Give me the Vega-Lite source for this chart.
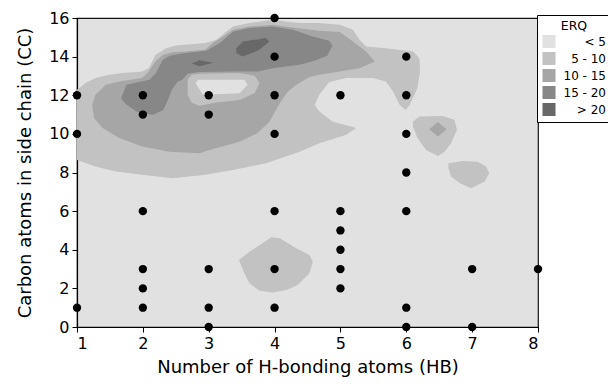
{
"$schema": "https://vega.github.io/schema/vega-lite/v6.json",
"width": 461, "height": 309,
"autosize": {"type": "none"},
"padding": {"left": 77, "top": 18, "right": 70, "bottom": 59},
"config": {
  "font": "DejaVu Sans",
  "view": {"fill": "#e1e1e1", "stroke": "#111111", "strokeWidth": 1.2},
  "axis": {"grid": false, "domainColor": "black", "tickColor": "black", "tickSize": 5, "labelColor": "black", "titleColor": "black", "labelFontSize": 16, "titleFontSize": 18, "titleFontWeight": "normal", "domainWidth": 1.2},
  "legend": {"titleFontWeight": "normal", "titleColor": "black", "labelColor": "black"}
},
"datasets": {
"contours": [
{"poly":"c0main","level":"5 - 10","i":1,"hb":1.00,"cc":12.28},
{"poly":"c0main","level":"5 - 10","i":2,"hb":1.13,"cc":12.63},
{"poly":"c0main","level":"5 - 10","i":3,"hb":1.28,"cc":12.89},
{"poly":"c0main","level":"5 - 10","i":4,"hb":1.49,"cc":13.06},
{"poly":"c0main","level":"5 - 10","i":5,"hb":1.69,"cc":13.15},
{"poly":"c0main","level":"5 - 10","i":6,"hb":1.99,"cc":13.23},
{"poly":"c0main","level":"5 - 10","i":7,"hb":2.09,"cc":13.40},
{"poly":"c0main","level":"5 - 10","i":8,"hb":2.19,"cc":14.09},
{"poly":"c0main","level":"5 - 10","i":9,"hb":2.35,"cc":14.44},
{"poly":"c0main","level":"5 - 10","i":10,"hb":2.50,"cc":14.58},
{"poly":"c0main","level":"5 - 10","i":11,"hb":2.95,"cc":14.70},
{"poly":"c0main","level":"5 - 10","i":12,"hb":3.12,"cc":14.87},
{"poly":"c0main","level":"5 - 10","i":13,"hb":3.27,"cc":15.30},
{"poly":"c0main","level":"5 - 10","i":14,"hb":3.37,"cc":15.56},
{"poly":"c0main","level":"5 - 10","i":15,"hb":3.62,"cc":15.74},
{"poly":"c0main","level":"5 - 10","i":16,"hb":3.97,"cc":15.91},
{"poly":"c0main","level":"5 - 10","i":17,"hb":4.18,"cc":15.82},
{"poly":"c0main","level":"5 - 10","i":18,"hb":4.38,"cc":15.74},
{"poly":"c0main","level":"5 - 10","i":19,"hb":4.68,"cc":15.74},
{"poly":"c0main","level":"5 - 10","i":20,"hb":4.99,"cc":15.65},
{"poly":"c0main","level":"5 - 10","i":21,"hb":5.19,"cc":15.39},
{"poly":"c0main","level":"5 - 10","i":22,"hb":5.29,"cc":14.87},
{"poly":"c0main","level":"5 - 10","i":23,"hb":5.39,"cc":14.52},
{"poly":"c0main","level":"5 - 10","i":24,"hb":5.69,"cc":14.44},
{"poly":"c0main","level":"5 - 10","i":25,"hb":6.10,"cc":14.26},
{"poly":"c0main","level":"5 - 10","i":26,"hb":6.20,"cc":13.92},
{"poly":"c0main","level":"5 - 10","i":27,"hb":6.21,"cc":13.23},
{"poly":"c0main","level":"5 - 10","i":28,"hb":6.17,"cc":12.37},
{"poly":"c0main","level":"5 - 10","i":29,"hb":6.05,"cc":11.50},
{"poly":"c0main","level":"5 - 10","i":30,"hb":5.99,"cc":11.24},
{"poly":"c0main","level":"5 - 10","i":31,"hb":5.90,"cc":11.50},
{"poly":"c0main","level":"5 - 10","i":32,"hb":5.80,"cc":12.19},
{"poly":"c0main","level":"5 - 10","i":33,"hb":5.69,"cc":12.71},
{"poly":"c0main","level":"5 - 10","i":34,"hb":5.49,"cc":12.89},
{"poly":"c0main","level":"5 - 10","i":35,"hb":5.09,"cc":12.89},
{"poly":"c0main","level":"5 - 10","i":36,"hb":4.83,"cc":12.69},
{"poly":"c0main","level":"5 - 10","i":37,"hb":4.68,"cc":12.02},
{"poly":"c0main","level":"5 - 10","i":38,"hb":4.61,"cc":11.50},
{"poly":"c0main","level":"5 - 10","i":39,"hb":4.68,"cc":11.16},
{"poly":"c0main","level":"5 - 10","i":40,"hb":4.88,"cc":10.64},
{"poly":"c0main","level":"5 - 10","i":41,"hb":5.24,"cc":10.30},
{"poly":"c0main","level":"5 - 10","i":42,"hb":5.09,"cc":9.95},
{"poly":"c0main","level":"5 - 10","i":43,"hb":4.68,"cc":9.52},
{"poly":"c0main","level":"5 - 10","i":44,"hb":4.38,"cc":9.08},
{"poly":"c0main","level":"5 - 10","i":45,"hb":3.87,"cc":8.48},
{"poly":"c0main","level":"5 - 10","i":46,"hb":3.37,"cc":8.13},
{"poly":"c0main","level":"5 - 10","i":47,"hb":2.95,"cc":7.88},
{"poly":"c0main","level":"5 - 10","i":48,"hb":2.45,"cc":7.70},
{"poly":"c0main","level":"5 - 10","i":49,"hb":1.99,"cc":7.88},
{"poly":"c0main","level":"5 - 10","i":50,"hb":1.59,"cc":8.05},
{"poly":"c0main","level":"5 - 10","i":51,"hb":1.28,"cc":8.31},
{"poly":"c0main","level":"5 - 10","i":52,"hb":1.00,"cc":8.65},
{"poly":"blobA","level":"5 - 10","i":1,"hb":6.10,"cc":10.64},
{"poly":"blobA","level":"5 - 10","i":2,"hb":6.20,"cc":10.90},
{"poly":"blobA","level":"5 - 10","i":3,"hb":6.55,"cc":10.93},
{"poly":"blobA","level":"5 - 10","i":4,"hb":6.73,"cc":10.73},
{"poly":"blobA","level":"5 - 10","i":5,"hb":6.77,"cc":10.21},
{"poly":"blobA","level":"5 - 10","i":6,"hb":6.68,"cc":9.52},
{"poly":"blobA","level":"5 - 10","i":7,"hb":6.58,"cc":9.08},
{"poly":"blobA","level":"5 - 10","i":8,"hb":6.48,"cc":8.86},
{"poly":"blobA","level":"5 - 10","i":9,"hb":6.30,"cc":9.17},
{"poly":"blobA","level":"5 - 10","i":10,"hb":6.17,"cc":9.78},
{"poly":"blobA","level":"5 - 10","i":11,"hb":6.10,"cc":10.38},
{"poly":"blobB","level":"5 - 10","i":1,"hb":6.64,"cc":8.48},
{"poly":"blobB","level":"5 - 10","i":2,"hb":6.86,"cc":8.60},
{"poly":"blobB","level":"5 - 10","i":3,"hb":7.08,"cc":8.56},
{"poly":"blobB","level":"5 - 10","i":4,"hb":7.21,"cc":8.31},
{"poly":"blobB","level":"5 - 10","i":5,"hb":7.26,"cc":7.96},
{"poly":"blobB","level":"5 - 10","i":6,"hb":7.19,"cc":7.53},
{"poly":"blobB","level":"5 - 10","i":7,"hb":6.98,"cc":7.19},
{"poly":"blobB","level":"5 - 10","i":8,"hb":6.81,"cc":7.45},
{"poly":"blobB","level":"5 - 10","i":9,"hb":6.68,"cc":7.79},
{"poly":"blobB","level":"5 - 10","i":10,"hb":6.64,"cc":8.22},
{"poly":"blobC","level":"5 - 10","i":1,"hb":3.46,"cc":3.47},
{"poly":"blobC","level":"5 - 10","i":2,"hb":3.62,"cc":3.90},
{"poly":"blobC","level":"5 - 10","i":3,"hb":3.95,"cc":4.65},
{"poly":"blobC","level":"5 - 10","i":4,"hb":4.08,"cc":4.60},
{"poly":"blobC","level":"5 - 10","i":5,"hb":4.33,"cc":4.08},
{"poly":"blobC","level":"5 - 10","i":6,"hb":4.53,"cc":3.73},
{"poly":"blobC","level":"5 - 10","i":7,"hb":4.58,"cc":3.38},
{"poly":"blobC","level":"5 - 10","i":8,"hb":4.53,"cc":2.78},
{"poly":"blobC","level":"5 - 10","i":9,"hb":4.35,"cc":2.18},
{"poly":"blobC","level":"5 - 10","i":10,"hb":4.18,"cc":1.92},
{"poly":"blobC","level":"5 - 10","i":11,"hb":3.97,"cc":1.78},
{"poly":"blobC","level":"5 - 10","i":12,"hb":3.77,"cc":1.88},
{"poly":"blobC","level":"5 - 10","i":13,"hb":3.62,"cc":2.26},
{"poly":"blobC","level":"5 - 10","i":14,"hb":3.54,"cc":2.78},
{"poly":"a6main","level":"10 - 15","i":1,"hb":1.23,"cc":11.50},
{"poly":"a6main","level":"10 - 15","i":2,"hb":1.28,"cc":12.02},
{"poly":"a6main","level":"10 - 15","i":3,"hb":1.44,"cc":12.54},
{"poly":"a6main","level":"10 - 15","i":4,"hb":1.64,"cc":12.71},
{"poly":"a6main","level":"10 - 15","i":5,"hb":1.99,"cc":12.89},
{"poly":"a6main","level":"10 - 15","i":6,"hb":2.07,"cc":13.15},
{"poly":"a6main","level":"10 - 15","i":7,"hb":2.19,"cc":13.75},
{"poly":"a6main","level":"10 - 15","i":8,"hb":2.30,"cc":14.09},
{"poly":"a6main","level":"10 - 15","i":9,"hb":2.45,"cc":14.23},
{"poly":"a6main","level":"10 - 15","i":10,"hb":2.65,"cc":14.26},
{"poly":"a6main","level":"10 - 15","i":11,"hb":2.95,"cc":14.35},
{"poly":"a6main","level":"10 - 15","i":12,"hb":3.06,"cc":14.70},
{"poly":"a6main","level":"10 - 15","i":13,"hb":3.22,"cc":15.04},
{"poly":"a6main","level":"10 - 15","i":14,"hb":3.37,"cc":15.39},
{"poly":"a6main","level":"10 - 15","i":15,"hb":3.62,"cc":15.56},
{"poly":"a6main","level":"10 - 15","i":16,"hb":3.97,"cc":15.65},
{"poly":"a6main","level":"10 - 15","i":17,"hb":4.33,"cc":15.48},
{"poly":"a6main","level":"10 - 15","i":18,"hb":4.68,"cc":15.34},
{"poly":"a6main","level":"10 - 15","i":19,"hb":4.99,"cc":15.28},
{"poly":"a6main","level":"10 - 15","i":20,"hb":5.19,"cc":14.78},
{"poly":"a6main","level":"10 - 15","i":21,"hb":5.39,"cc":14.26},
{"poly":"a6main","level":"10 - 15","i":22,"hb":5.52,"cc":13.75},
{"poly":"a6main","level":"10 - 15","i":23,"hb":5.29,"cc":13.40},
{"poly":"a6main","level":"10 - 15","i":24,"hb":4.99,"cc":13.23},
{"poly":"a6main","level":"10 - 15","i":25,"hb":4.68,"cc":13.06},
{"poly":"a6main","level":"10 - 15","i":26,"hb":4.53,"cc":12.95},
{"poly":"a6main","level":"10 - 15","i":27,"hb":4.33,"cc":12.54},
{"poly":"a6main","level":"10 - 15","i":28,"hb":4.20,"cc":12.18},
{"poly":"a6main","level":"10 - 15","i":29,"hb":4.11,"cc":11.76},
{"poly":"a6main","level":"10 - 15","i":30,"hb":4.02,"cc":11.24},
{"poly":"a6main","level":"10 - 15","i":31,"hb":3.92,"cc":10.62},
{"poly":"a6main","level":"10 - 15","i":32,"hb":3.74,"cc":10.05},
{"poly":"a6main","level":"10 - 15","i":33,"hb":3.47,"cc":9.59},
{"poly":"a6main","level":"10 - 15","i":34,"hb":3.01,"cc":9.17},
{"poly":"a6main","level":"10 - 15","i":35,"hb":2.86,"cc":9.00},
{"poly":"a6main","level":"10 - 15","i":36,"hb":2.40,"cc":9.08},
{"poly":"a6main","level":"10 - 15","i":37,"hb":1.99,"cc":9.34},
{"poly":"a6main","level":"10 - 15","i":38,"hb":1.64,"cc":9.78},
{"poly":"a6main","level":"10 - 15","i":39,"hb":1.39,"cc":10.30},
{"poly":"a6main","level":"10 - 15","i":40,"hb":1.26,"cc":10.81},
{"poly":"blobAin","level":"10 - 15","i":1,"hb":6.35,"cc":10.24},
{"poly":"blobAin","level":"10 - 15","i":2,"hb":6.48,"cc":10.61},
{"poly":"blobAin","level":"10 - 15","i":3,"hb":6.61,"cc":10.24},
{"poly":"blobAin","level":"10 - 15","i":4,"hb":6.48,"cc":9.86},
{"poly":"d80main","level":"15 - 20","i":1,"hb":1.67,"cc":11.85},
{"poly":"d80main","level":"15 - 20","i":2,"hb":1.75,"cc":12.54},
{"poly":"d80main","level":"15 - 20","i":3,"hb":2.10,"cc":12.80},
{"poly":"d80main","level":"15 - 20","i":4,"hb":2.20,"cc":13.15},
{"poly":"d80main","level":"15 - 20","i":5,"hb":2.30,"cc":13.83},
{"poly":"d80main","level":"15 - 20","i":6,"hb":2.41,"cc":14.04},
{"poly":"d80main","level":"15 - 20","i":7,"hb":2.61,"cc":14.18},
{"poly":"d80main","level":"15 - 20","i":8,"hb":2.96,"cc":14.30},
{"poly":"d80main","level":"15 - 20","i":9,"hb":3.17,"cc":14.70},
{"poly":"d80main","level":"15 - 20","i":10,"hb":3.37,"cc":15.30},
{"poly":"d80main","level":"15 - 20","i":11,"hb":3.62,"cc":15.48},
{"poly":"d80main","level":"15 - 20","i":12,"hb":3.97,"cc":15.56},
{"poly":"d80main","level":"15 - 20","i":13,"hb":4.28,"cc":15.39},
{"poly":"d80main","level":"15 - 20","i":14,"hb":4.58,"cc":15.04},
{"poly":"d80main","level":"15 - 20","i":15,"hb":4.83,"cc":14.82},
{"poly":"d80main","level":"15 - 20","i":16,"hb":4.88,"cc":14.56},
{"poly":"d80main","level":"15 - 20","i":17,"hb":4.80,"cc":14.04},
{"poly":"d80main","level":"15 - 20","i":18,"hb":4.61,"cc":13.78},
{"poly":"d80main","level":"15 - 20","i":19,"hb":4.38,"cc":13.58},
{"poly":"d80main","level":"15 - 20","i":20,"hb":3.97,"cc":13.40},
{"poly":"d80main","level":"15 - 20","i":21,"hb":3.74,"cc":13.23},
{"poly":"d80main","level":"15 - 20","i":22,"hb":3.36,"cc":13.23},
{"poly":"d80main","level":"15 - 20","i":23,"hb":2.86,"cc":13.21},
{"poly":"d80main","level":"15 - 20","i":24,"hb":2.68,"cc":13.11},
{"poly":"d80main","level":"15 - 20","i":25,"hb":2.60,"cc":12.80},
{"poly":"d80main","level":"15 - 20","i":26,"hb":2.53,"cc":12.71},
{"poly":"d80main","level":"15 - 20","i":27,"hb":2.44,"cc":12.28},
{"poly":"d80main","level":"15 - 20","i":28,"hb":2.38,"cc":11.76},
{"poly":"d80main","level":"15 - 20","i":29,"hb":2.31,"cc":11.24},
{"poly":"d80main","level":"15 - 20","i":30,"hb":2.15,"cc":10.98},
{"poly":"d80main","level":"15 - 20","i":31,"hb":1.90,"cc":11.16},
{"poly":"d80main","level":"15 - 20","i":32,"hb":1.74,"cc":11.55},
{"poly":"d60a","level":"> 20","i":1,"hb":3.42,"cc":14.44},
{"poly":"d60a","level":"> 20","i":2,"hb":3.52,"cc":14.78},
{"poly":"d60a","level":"> 20","i":3,"hb":3.87,"cc":14.96},
{"poly":"d60a","level":"> 20","i":4,"hb":3.92,"cc":14.78},
{"poly":"d60a","level":"> 20","i":5,"hb":3.77,"cc":14.35},
{"poly":"d60a","level":"> 20","i":6,"hb":3.52,"cc":14.01},
{"poly":"d60a","level":"> 20","i":7,"hb":3.42,"cc":14.18},
{"poly":"d60b","level":"> 20","i":1,"hb":2.74,"cc":13.65},
{"poly":"d60b","level":"> 20","i":2,"hb":2.86,"cc":13.81},
{"poly":"d60b","level":"> 20","i":3,"hb":3.07,"cc":13.68},
{"poly":"d60b","level":"> 20","i":4,"hb":2.86,"cc":13.50},
{"poly":"ring","level":"5 - 10","i":1,"hb":2.68,"cc":12.80},
{"poly":"ring","level":"5 - 10","i":2,"hb":2.74,"cc":13.06},
{"poly":"ring","level":"5 - 10","i":3,"hb":2.86,"cc":13.11},
{"poly":"ring","level":"5 - 10","i":4,"hb":3.47,"cc":13.15},
{"poly":"ring","level":"5 - 10","i":5,"hb":3.70,"cc":13.01},
{"poly":"ring","level":"5 - 10","i":6,"hb":3.77,"cc":12.64},
{"poly":"ring","level":"5 - 10","i":7,"hb":3.70,"cc":12.12},
{"poly":"ring","level":"5 - 10","i":8,"hb":3.47,"cc":11.76},
{"poly":"ring","level":"5 - 10","i":9,"hb":3.09,"cc":11.61},
{"poly":"ring","level":"5 - 10","i":10,"hb":2.86,"cc":11.45},
{"poly":"ring","level":"5 - 10","i":11,"hb":2.74,"cc":11.61},
{"poly":"ring","level":"5 - 10","i":12,"hb":2.68,"cc":12.02},
{"poly":"hole","level":"< 5","i":1,"hb":2.84,"cc":12.80},
{"poly":"hole","level":"< 5","i":2,"hb":3.54,"cc":12.80},
{"poly":"hole","level":"< 5","i":3,"hb":3.59,"cc":12.54},
{"poly":"hole","level":"< 5","i":4,"hb":3.47,"cc":12.11},
{"poly":"hole","level":"< 5","i":5,"hb":2.91,"cc":12.02},
{"poly":"hole","level":"< 5","i":6,"hb":2.80,"cc":12.64}
],
"points": [
{"hb":1,"cc":12},{"hb":1,"cc":10},{"hb":1,"cc":1},
{"hb":2,"cc":12},{"hb":2,"cc":11},{"hb":2,"cc":6},{"hb":2,"cc":3},{"hb":2,"cc":2},{"hb":2,"cc":1},
{"hb":3,"cc":12},{"hb":3,"cc":11},{"hb":3,"cc":3},{"hb":3,"cc":1},{"hb":3,"cc":0},
{"hb":4,"cc":16},{"hb":4,"cc":14},{"hb":4,"cc":12},{"hb":4,"cc":10},{"hb":4,"cc":6},{"hb":4,"cc":3},{"hb":4,"cc":1},
{"hb":5,"cc":12},{"hb":5,"cc":6},{"hb":5,"cc":5},{"hb":5,"cc":4},{"hb":5,"cc":3},{"hb":5,"cc":2},
{"hb":6,"cc":14},{"hb":6,"cc":12},{"hb":6,"cc":10},{"hb":6,"cc":8},{"hb":6,"cc":6},{"hb":6,"cc":1},{"hb":6,"cc":0},
{"hb":7,"cc":3},{"hb":7,"cc":0},
{"hb":8,"cc":3}
]
},
"encoding": {
  "x": {"field": "hb", "type": "quantitative", "scale": {"domain": [1, 8], "nice": false, "zero": false}, "axis": {"title": "Number of H-bonding atoms (HB)", "values": [1,2,3,4,5,6,7,8], "titlePadding": 7, "labelPadding": 3}},
  "y": {"field": "cc", "type": "quantitative", "scale": {"domain": [0, 16], "nice": false, "zero": false}, "axis": {"title": "Carbon atoms in side chain (CC)", "values": [0,2,4,6,8,10,12,14,16], "titlePadding": 14, "labelPadding": 3}}
},
"layer": [
  {"data": {"name": "contours"}, "transform": [{"filter": "datum.level == '5 - 10' && datum.poly != 'ring'"}],
   "mark": {"type": "line", "filled": true, "interpolate": "linear-closed", "strokeWidth": 0},
   "encoding": {"color": {"field": "level", "type": "nominal", "scale": {"domain": ["< 5", "5 - 10", "10 - 15", "15 - 20", "> 20"], "range": ["#e1e1e1", "#c2c2c2", "#a6a6a6", "#878787", "#686868"]},
     "legend": {"title": "ERQ", "orient": "none", "legendX": 460, "legendY": -3, "titleAnchor": "middle", "titleFontSize": 12.5, "labelFontSize": 12, "labelAlign": "right", "labelOffset": 50, "symbolType": "square", "symbolSize": 170, "symbolStrokeWidth": 0, "strokeColor": "black", "fillColor": "white", "padding": 5, "rowPadding": 3, "titlePadding": 2}},
     "detail": {"field": "poly"}, "order": {"field": "i"}}},
  {"data": {"name": "contours"}, "transform": [{"filter": "datum.level == '10 - 15'"}],
   "mark": {"type": "line", "filled": true, "interpolate": "linear-closed", "strokeWidth": 0},
   "encoding": {"color": {"field": "level", "type": "nominal"}, "detail": {"field": "poly"}, "order": {"field": "i"}}},
  {"data": {"name": "contours"}, "transform": [{"filter": "datum.level == '15 - 20'"}],
   "mark": {"type": "line", "filled": true, "interpolate": "linear-closed", "strokeWidth": 0},
   "encoding": {"color": {"field": "level", "type": "nominal"}, "detail": {"field": "poly"}, "order": {"field": "i"}}},
  {"data": {"name": "contours"}, "transform": [{"filter": "datum.level == '> 20'"}],
   "mark": {"type": "line", "filled": true, "interpolate": "linear-closed", "strokeWidth": 0},
   "encoding": {"color": {"field": "level", "type": "nominal"}, "detail": {"field": "poly"}, "order": {"field": "i"}}},
  {"data": {"name": "contours"}, "transform": [{"filter": "datum.poly == 'ring'"}],
   "mark": {"type": "line", "filled": true, "interpolate": "linear-closed", "strokeWidth": 0},
   "encoding": {"color": {"field": "level", "type": "nominal"}, "detail": {"field": "poly"}, "order": {"field": "i"}}},
  {"data": {"name": "contours"}, "transform": [{"filter": "datum.level == '< 5'"}],
   "mark": {"type": "line", "filled": true, "interpolate": "linear-closed", "strokeWidth": 0},
   "encoding": {"color": {"field": "level", "type": "nominal"}, "detail": {"field": "poly"}, "order": {"field": "i"}}},
  {"data": {"name": "points"},
   "mark": {"type": "circle", "size": 70, "color": "black", "opacity": 1}}
]
}
